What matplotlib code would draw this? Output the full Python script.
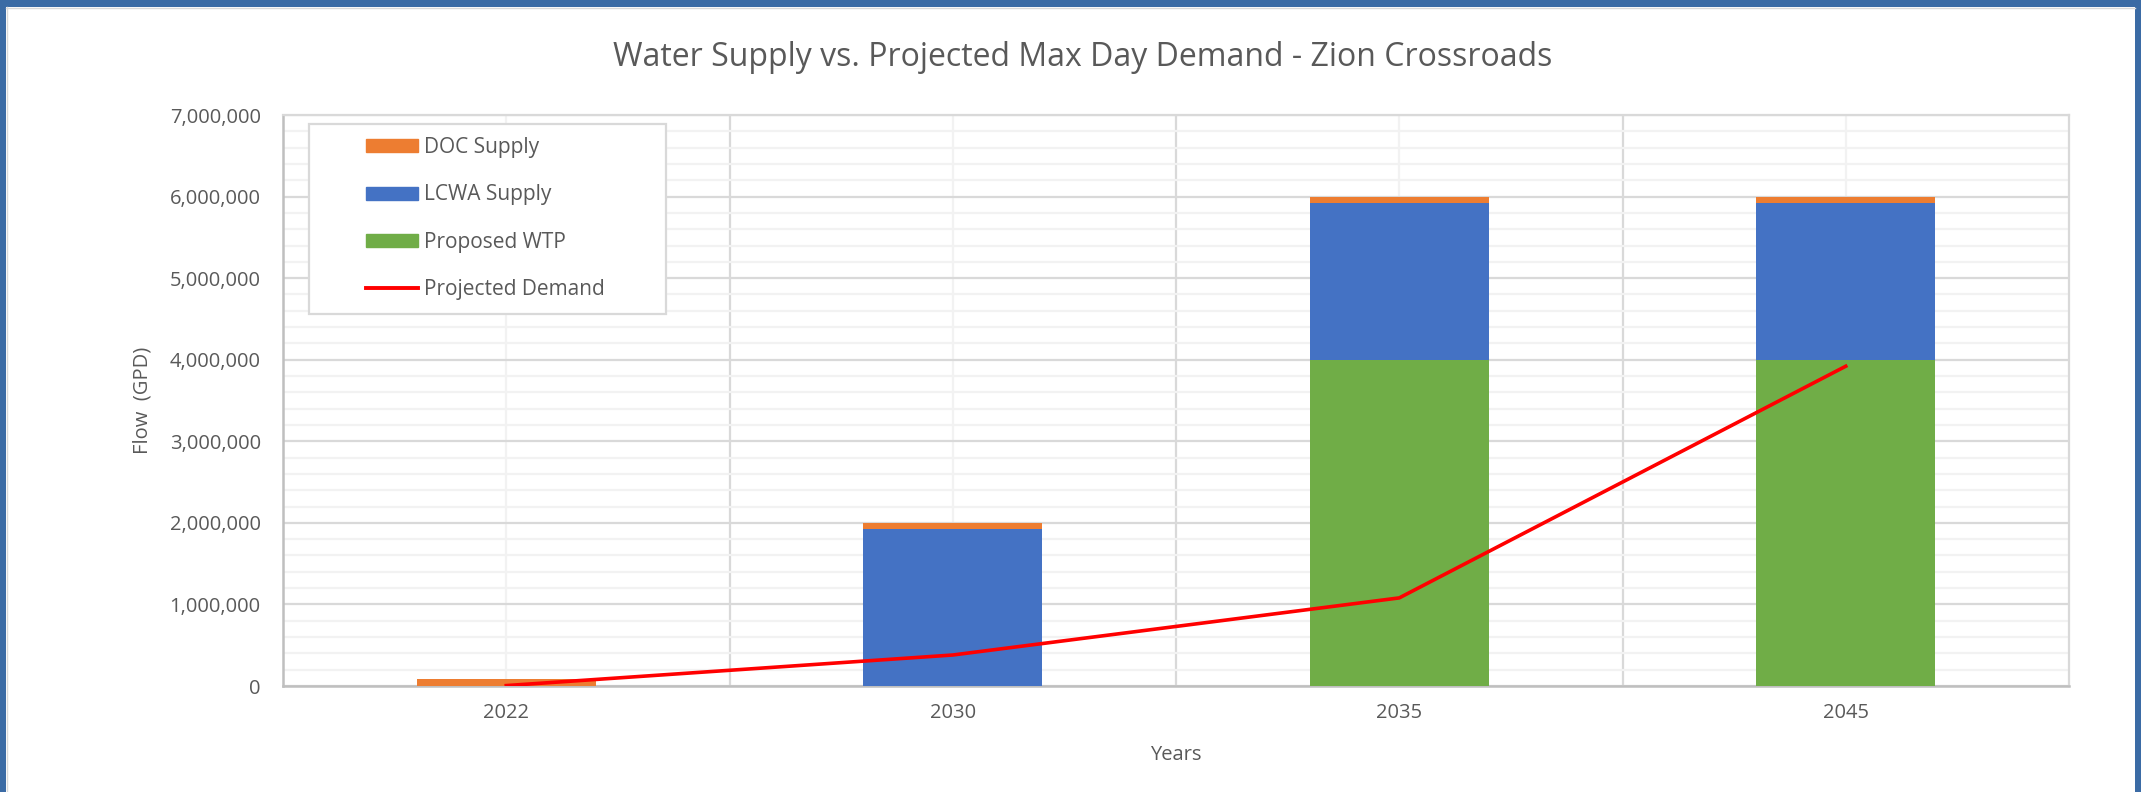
import matplotlib
matplotlib.use("Agg")
import matplotlib.pyplot as plt
from matplotlib.patches import Rectangle, Patch
from matplotlib.lines import Line2D
from matplotlib.ticker import MultipleLocator, FuncFormatter

plt.rcParams['font.family'] = ['Open Sans', 'DejaVu Sans']

# values per planning year (gallons per day)
years = ['2022', '2030', '2035', '2045']
proposed_wtp = [0, 0, 4000000, 4000000]
lcwa_supply = [0, 1920000, 1920000, 1920000]
doc_supply = [80000, 80000, 80000, 80000]
projected_demand = [5000, 380000, 1080000, 3920000]

c_doc = '#ed7d31'
c_lcwa = '#4472c4'
c_wtp = '#70ad47'
c_demand = '#ff0000'
txt = '#595959'

W, H = 2141, 792
fig = plt.figure(figsize=(W / 100, H / 100), dpi=100)
ax = fig.add_axes([283 / W, 1 - 686 / H, (2069 - 283) / W, (686 - 115) / H])

x = list(range(len(years)))
bw = 0.40
ax.bar(x, proposed_wtp, bw, color=c_wtp, zorder=3)
base = proposed_wtp
ax.bar(x, lcwa_supply, bw, bottom=base, color=c_lcwa, zorder=3)
base = [a + b for a, b in zip(base, lcwa_supply)]
ax.bar(x, doc_supply, bw, bottom=base, color=c_doc, zorder=3)
ax.plot(x, projected_demand, color=c_demand, lw=2.6, zorder=4,
        solid_joinstyle='round')

ax.set_xlim(-0.5, 3.5)
ax.set_ylim(0, 7000000)
ax.set_xticks(x)
ax.set_xticklabels(years)
ax.set_xticks([0.5, 1.5, 2.5], minor=True)
ax.yaxis.set_major_locator(MultipleLocator(1000000))
ax.yaxis.set_minor_locator(MultipleLocator(200000))
ax.yaxis.set_major_formatter(FuncFormatter(lambda v, p: f'{int(v):,}'))

# gridlines: darker at the major steps, faint in between
ax.grid(which='major', axis='y', color='#d9d9d9', lw=1.6, zorder=1)
ax.grid(which='minor', axis='y', color='#f2f2f2', lw=1.6, zorder=0)
ax.grid(which='minor', axis='x', color='#d9d9d9', lw=1.6, zorder=1)
ax.grid(which='major', axis='x', color='#f2f2f2', lw=1.6, zorder=0)
ax.set_axisbelow(True)

ax.tick_params(which='both', length=0)
ax.tick_params(axis='y', pad=16, labelsize=14.5, labelcolor=txt)
ax.tick_params(axis='x', pad=12, labelsize=14.5, labelcolor=txt)

for s in ['top', 'right']:
    ax.spines[s].set_color('#d9d9d9')
    ax.spines[s].set_linewidth(1.6)
for s in ['left', 'bottom']:
    ax.spines[s].set_color('#bfbfbf')
    ax.spines[s].set_linewidth(1.8)

ax.set_ylabel('Flow  (GPD)', fontsize=14.5, color=txt, labelpad=12)
ax.set_xlabel('Years', fontsize=14.5, color=txt, labelpad=16)
fig.text(0.5 + 12 / W, 1 - 57 / H,
         'Water Supply vs. Projected Max Day Demand - Zion Crossroads',
         ha='center', va='center', fontsize=23, color=txt)

# legend
handles = [Patch(color=c_doc), Patch(color=c_lcwa), Patch(color=c_wtp),
           Line2D([], [], color=c_demand, lw=2.8)]
labels = ['DOC Supply', 'LCWA Supply', 'Proposed WTP', 'Projected Demand']
leg = fig.legend(handles, labels, loc='upper left',
                 bbox_to_anchor=(366 / W, 1 - 137 / H), frameon=False,
                 fontsize=15, labelcolor=txt, handlelength=2.5,
                 handleheight=0.6, handletextpad=0.3, labelspacing=1.27,
                 borderpad=0, borderaxespad=0)
fig.add_artist(Rectangle((309 / W, 1 - 314 / H), (666 - 309) / W, (314 - 124) / H,
                         transform=fig.transFigure, facecolor='white',
                         edgecolor='#d9d9d9', lw=1.6, zorder=2))
leg.set_zorder(3)

# window frame
fig.add_artist(Rectangle((0, 0), 6 / W, 1, transform=fig.transFigure,
                         color='#3b6ba5', lw=0))
fig.add_artist(Rectangle((0, 1 - 7 / H), 1, 7 / H, transform=fig.transFigure,
                         color='#3b6ba5', lw=0))
fig.add_artist(Rectangle((1 - 6 / W, 0), 6 / W, 1, transform=fig.transFigure,
                         color='#3b6ba5', lw=0))
fig.add_artist(Line2D([6.5 / W, 6.5 / W], [0, 1 - 7 / H], transform=fig.transFigure,
                      color='#d9d9d9', lw=1))
fig.add_artist(Line2D([6 / W, 1 - 6 / W], [1 - 7.5 / H, 1 - 7.5 / H],
                      transform=fig.transFigure, color='#d9d9d9', lw=1))

fig.savefig('out.png', dpi=100, facecolor='white')
